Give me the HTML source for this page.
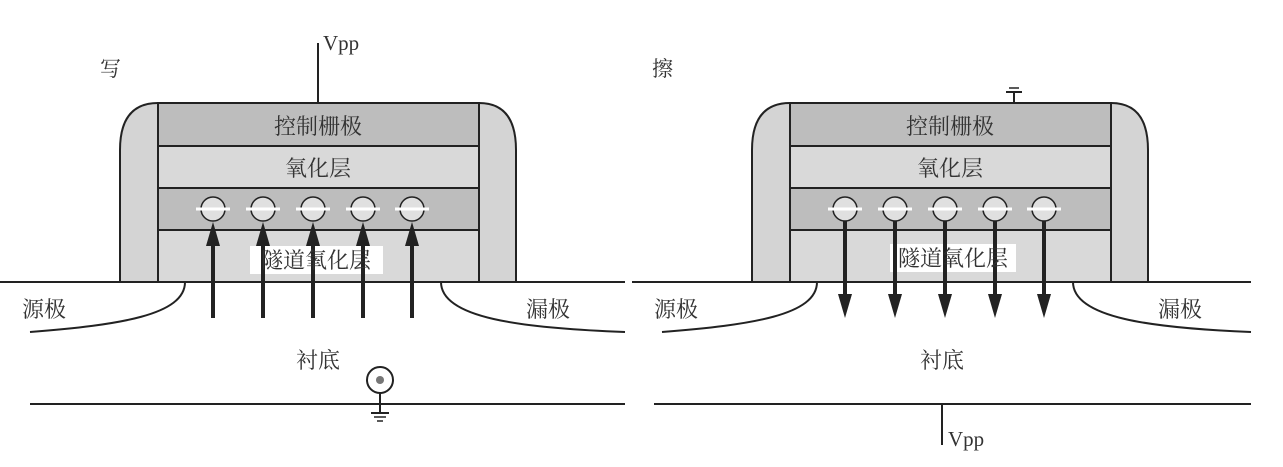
<!DOCTYPE html>
<html><head><meta charset="utf-8"><style>
html,body{margin:0;padding:0;background:#fff;}
svg{display:block;}
text{font-family:"Liberation Serif","Noto Serif CJK SC",serif;fill:#333;}
</style></head><body>
<svg width="1283" height="467" viewBox="0 0 1283 467">

<!-- LEFT: write -->
<g>
<text x="100" y="76" font-size="21">写</text>
<line x1="318" y1="43" x2="318" y2="103" stroke="#222" stroke-width="2"/>
<text x="323" y="50" font-size="21">Vpp</text>
<path d="M120,282 L120,150 Q120,103 158,103 L479,103 Q516,103 516,150 L516,282 Z" fill="#d4d4d4" stroke="#222" stroke-width="2"/>
<rect x="158" y="103" width="321" height="43" fill="#bdbdbd" stroke="#222" stroke-width="2"/>
<rect x="158" y="146" width="321" height="42" fill="#d9d9d9" stroke="#222" stroke-width="2"/>
<rect x="158" y="188" width="321" height="42" fill="#bdbdbd" stroke="#222" stroke-width="2"/>
<rect x="158" y="230" width="321" height="52" fill="#d9d9d9" stroke="#222" stroke-width="2"/>
<text x="318" y="134" font-size="22" text-anchor="middle">控制栅极</text>
<text x="318" y="176" font-size="22" text-anchor="middle">氧化层</text>
<line x1="0" y1="282" x2="625" y2="282" stroke="#222" stroke-width="2"/>
<path d="M185,282 C185,315 120,325 30,332" fill="none" stroke="#222" stroke-width="2"/>
<path d="M441,282 C441,318 520,328 625,332" fill="none" stroke="#222" stroke-width="2"/>
<text x="22" y="317" font-size="22">源极</text>
<text x="526" y="317" font-size="22">漏极</text>
<text x="318" y="368" font-size="22" text-anchor="middle">衬底</text>
<line x1="30" y1="404" x2="625" y2="404" stroke="#222" stroke-width="2"/>
<circle cx="380" cy="380" r="13" fill="#fff" stroke="#222" stroke-width="2"/>
<circle cx="380" cy="380" r="4" fill="#777"/>
<line x1="380" y1="393" x2="380" y2="413" stroke="#222" stroke-width="2"/>
<line x1="371" y1="413" x2="389" y2="413" stroke="#222" stroke-width="2"/>
<line x1="374" y1="417" x2="386" y2="417" stroke="#222" stroke-width="1.5"/>
<line x1="377" y1="421" x2="383" y2="421" stroke="#222" stroke-width="1.5"/>
<rect x="250" y="246" width="133" height="28" fill="#fff"/>
<g>
<g transform="translate(213,0)"><circle cx="0" cy="209" r="12" fill="#e0e0e0" stroke="#222" stroke-width="1.5"/><line x1="-17" y1="209" x2="17" y2="209" stroke="#fff" stroke-width="3"/><line x1="0" y1="318" x2="0" y2="240" stroke="#222" stroke-width="4"/><path d="M-7,246 L0,222 L7,246 Z" fill="#222"/></g>
<g transform="translate(263,0)"><circle cx="0" cy="209" r="12" fill="#e0e0e0" stroke="#222" stroke-width="1.5"/><line x1="-17" y1="209" x2="17" y2="209" stroke="#fff" stroke-width="3"/><line x1="0" y1="318" x2="0" y2="240" stroke="#222" stroke-width="4"/><path d="M-7,246 L0,222 L7,246 Z" fill="#222"/></g>
<g transform="translate(313,0)"><circle cx="0" cy="209" r="12" fill="#e0e0e0" stroke="#222" stroke-width="1.5"/><line x1="-17" y1="209" x2="17" y2="209" stroke="#fff" stroke-width="3"/><line x1="0" y1="318" x2="0" y2="240" stroke="#222" stroke-width="4"/><path d="M-7,246 L0,222 L7,246 Z" fill="#222"/></g>
<g transform="translate(363,0)"><circle cx="0" cy="209" r="12" fill="#e0e0e0" stroke="#222" stroke-width="1.5"/><line x1="-17" y1="209" x2="17" y2="209" stroke="#fff" stroke-width="3"/><line x1="0" y1="318" x2="0" y2="240" stroke="#222" stroke-width="4"/><path d="M-7,246 L0,222 L7,246 Z" fill="#222"/></g>
<g transform="translate(412,0)"><circle cx="0" cy="209" r="12" fill="#e0e0e0" stroke="#222" stroke-width="1.5"/><line x1="-17" y1="209" x2="17" y2="209" stroke="#fff" stroke-width="3"/><line x1="0" y1="318" x2="0" y2="240" stroke="#222" stroke-width="4"/><path d="M-7,246 L0,222 L7,246 Z" fill="#222"/></g>
</g>
<text x="316" y="268" font-size="22" text-anchor="middle">隧道氧化层</text>
</g>

<!-- RIGHT: erase -->
<g transform="translate(632,0)">
<text x="20" y="76" font-size="21">擦</text>
<line x1="382" y1="92" x2="382" y2="103" stroke="#222" stroke-width="2"/>
<line x1="374" y1="92" x2="390" y2="92" stroke="#222" stroke-width="2"/>
<line x1="377" y1="88" x2="387" y2="88" stroke="#222" stroke-width="1.5"/>
<path d="M120,282 L120,150 Q120,103 158,103 L479,103 Q516,103 516,150 L516,282 Z" fill="#d4d4d4" stroke="#222" stroke-width="2"/>
<rect x="158" y="103" width="321" height="43" fill="#bdbdbd" stroke="#222" stroke-width="2"/>
<rect x="158" y="146" width="321" height="42" fill="#d9d9d9" stroke="#222" stroke-width="2"/>
<rect x="158" y="188" width="321" height="42" fill="#bdbdbd" stroke="#222" stroke-width="2"/>
<rect x="158" y="230" width="321" height="52" fill="#d9d9d9" stroke="#222" stroke-width="2"/>
<text x="318" y="134" font-size="22" text-anchor="middle">控制栅极</text>
<text x="318" y="176" font-size="22" text-anchor="middle">氧化层</text>
<line x1="0" y1="282" x2="619" y2="282" stroke="#222" stroke-width="2"/>
<path d="M185,282 C185,315 120,325 30,332" fill="none" stroke="#222" stroke-width="2"/>
<path d="M441,282 C441,318 520,328 619,332" fill="none" stroke="#222" stroke-width="2"/>
<text x="22" y="317" font-size="22">源极</text>
<text x="526" y="317" font-size="22">漏极</text>
<text x="310" y="368" font-size="22" text-anchor="middle">衬底</text>
<line x1="22" y1="404" x2="619" y2="404" stroke="#222" stroke-width="2"/>
<line x1="310" y1="404" x2="310" y2="445" stroke="#222" stroke-width="2"/>
<text x="316" y="446" font-size="21">Vpp</text>
<rect x="258" y="244" width="126" height="28" fill="#fff"/>
<g transform="translate(213,0)"><line x1="0" y1="221" x2="0" y2="300" stroke="#222" stroke-width="4"/><path d="M-7,294 L0,318 L7,294 Z" fill="#222"/><circle cx="0" cy="209" r="12" fill="#e0e0e0" stroke="#222" stroke-width="1.5"/><line x1="-17" y1="209" x2="17" y2="209" stroke="#fff" stroke-width="3"/></g>
<g transform="translate(263,0)"><line x1="0" y1="221" x2="0" y2="300" stroke="#222" stroke-width="4"/><path d="M-7,294 L0,318 L7,294 Z" fill="#222"/><circle cx="0" cy="209" r="12" fill="#e0e0e0" stroke="#222" stroke-width="1.5"/><line x1="-17" y1="209" x2="17" y2="209" stroke="#fff" stroke-width="3"/></g>
<g transform="translate(313,0)"><line x1="0" y1="221" x2="0" y2="300" stroke="#222" stroke-width="4"/><path d="M-7,294 L0,318 L7,294 Z" fill="#222"/><circle cx="0" cy="209" r="12" fill="#e0e0e0" stroke="#222" stroke-width="1.5"/><line x1="-17" y1="209" x2="17" y2="209" stroke="#fff" stroke-width="3"/></g>
<g transform="translate(363,0)"><line x1="0" y1="221" x2="0" y2="300" stroke="#222" stroke-width="4"/><path d="M-7,294 L0,318 L7,294 Z" fill="#222"/><circle cx="0" cy="209" r="12" fill="#e0e0e0" stroke="#222" stroke-width="1.5"/><line x1="-17" y1="209" x2="17" y2="209" stroke="#fff" stroke-width="3"/></g>
<g transform="translate(412,0)"><line x1="0" y1="221" x2="0" y2="300" stroke="#222" stroke-width="4"/><path d="M-7,294 L0,318 L7,294 Z" fill="#222"/><circle cx="0" cy="209" r="12" fill="#e0e0e0" stroke="#222" stroke-width="1.5"/><line x1="-17" y1="209" x2="17" y2="209" stroke="#fff" stroke-width="3"/></g>
<text x="321" y="266" font-size="22" text-anchor="middle">隧道氧化层</text>
</g>
</svg>
</body></html>
